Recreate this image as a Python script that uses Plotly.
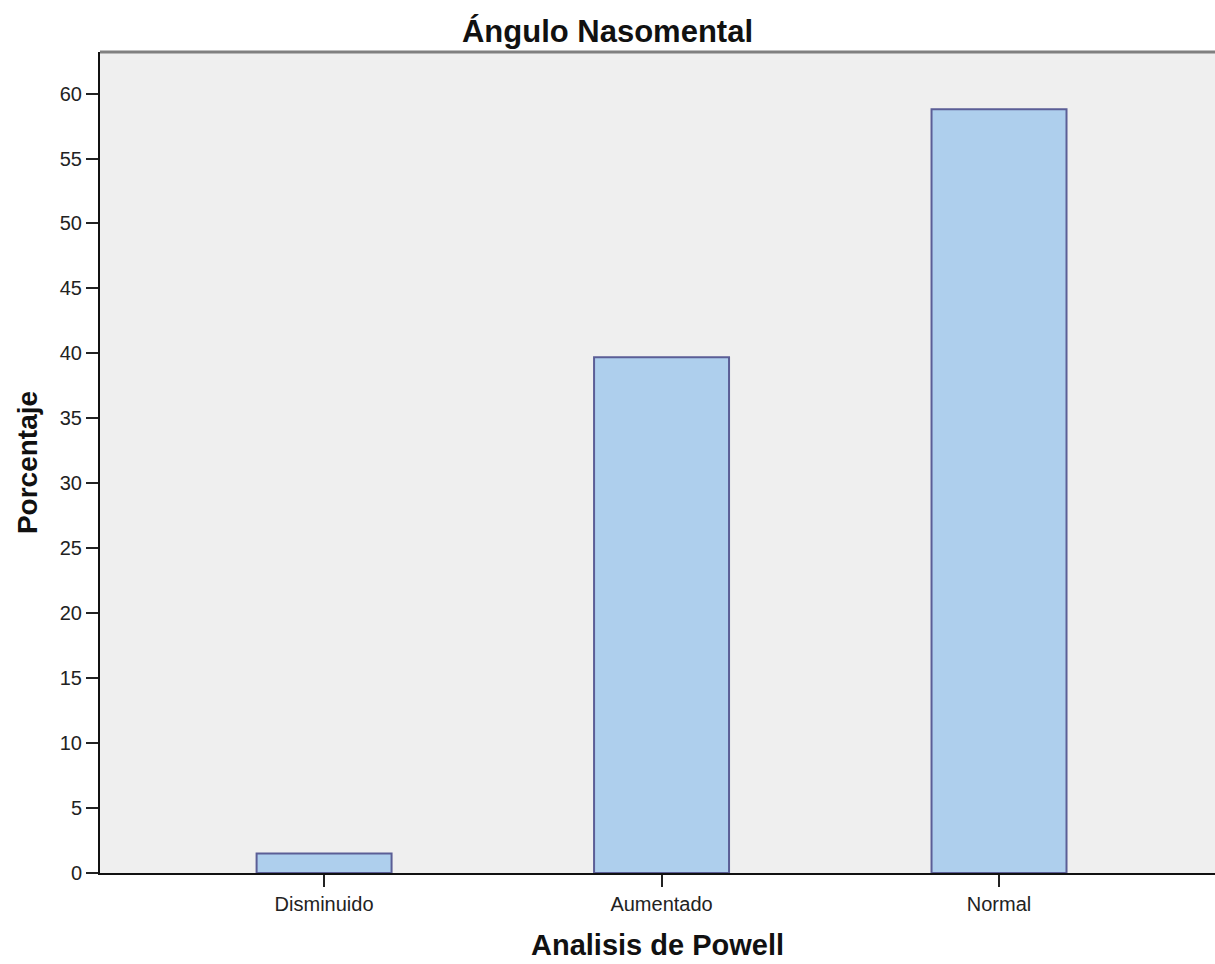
import plotly.graph_objects as go

categories = ["Disminuido", "Aumentado", "Normal"]
percentages = [1.5, 39.7, 58.8]
y_ticks = list(range(0, 65, 5))

fig = go.Figure(go.Bar(
    x=categories,
    y=percentages,
    width=0.4,
    marker=dict(color="#aecfed", line=dict(color="#5b5e96", width=2)),
))

fig.update_layout(
    width=1215, height=964,
    margin=dict(l=100, r=0, t=52, b=91),
    paper_bgcolor="white",
    plot_bgcolor="#efefef",
    showlegend=False,
    font=dict(family="Liberation Sans, Arial, sans-serif", color="#222222"),
    title=dict(text="<b>Ángulo Nasomental</b>", x=0.5, xref="container", xanchor="center",
               y=1 - 31 / 964, yref="container", yanchor="middle",
               font=dict(size=31, color="#111111")),
    shapes=[dict(type="line", xref="paper", yref="paper", x0=0, x1=1, y0=1, y1=1,
                 line=dict(color="#808080", width=3))],
)

fig.update_xaxes(
    range=[-0.664, 2.64],
    showline=True, linecolor="#111111", linewidth=2,
    ticks="outside", ticklen=12, tickwidth=2, tickcolor="#222222",
    tickfont=dict(size=20, color="#222222"),
    showgrid=False, zeroline=False,
    title=dict(text="<b>Analisis de Powell</b>", font=dict(size=29, color="#111111"), standoff=21),
)

fig.update_yaxes(
    range=[0, 63.2],
    tickvals=y_ticks,
    showline=True, linecolor="#111111", linewidth=2,
    ticks="outside", ticklen=12, tickwidth=2, tickcolor="#222222",
    tickfont=dict(size=20, color="#222222"),
    showgrid=False, zeroline=False,
    title=dict(text="<b>Porcentaje</b>", font=dict(size=28, color="#111111"), standoff=14),
)

fig.write_html("out.html", config={"displayModeBar": False},
               post_script="document.body.style.margin='0';")
